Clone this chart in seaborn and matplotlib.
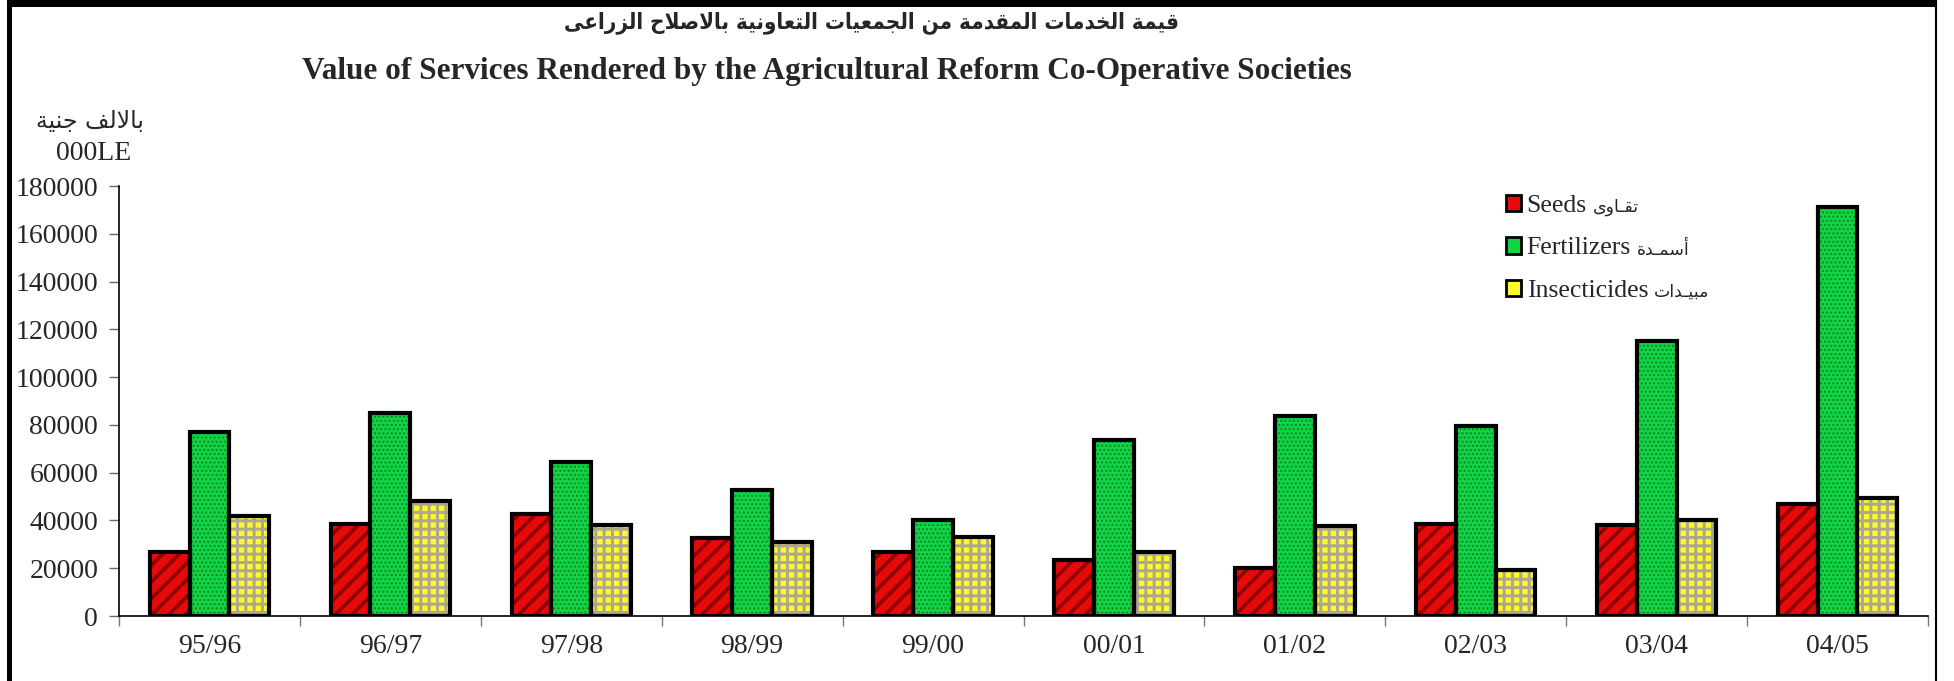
import numpy as np
import pandas as pd
import matplotlib
matplotlib.use("Agg")
import matplotlib.pyplot as plt
from matplotlib.patches import Rectangle, Patch
from matplotlib.lines import Line2D
from matplotlib.transforms import IdentityTransform
import seaborn as sns

# ---------------- data ----------------
years = ["95/96", "96/97", "97/98", "98/99", "99/00", "00/01", "01/02", "02/03", "03/04", "04/05"]
seeds = [27000, 38700, 42800, 32800, 26900, 23600, 20200, 38700, 38100, 47000]
fertilizers = [77000, 84900, 64300, 52700, 40200, 73600, 83700, 79700, 115000, 171000]
insecticides = [41900, 48300, 37900, 30800, 32900, 26800, 37800, 19100, 40100, 49400]
series_en = ["Seeds", "Fertilizers", "Insecticides"]
series_ar = ["تقـاوى", "أسمـدة", "مبيـدات"]
yticks = [0, 20000, 40000, 60000, 80000, 100000, 120000, 140000, 160000, 180000]
title_ar = "قيمة الخدمات المقدمة من الجمعيات التعاونية بالاصلاح الزراعى"
title_en = "Value of Services Rendered by the Agricultural Reform Co-Operative Societies"
unit_ar = "بالالف جنية"
unit_en = "000LE"

# ------------- minimal Arabic shaping (presentation forms, visual order) -------------
AR_FORMS = {
    '\u0627': (0xFE8D, 0xFE8E, None, None),
    '\u0623': (0xFE83, 0xFE84, None, None),
    '\u0628': (0xFE8F, 0xFE90, 0xFE91, 0xFE92),
    '\u0629': (0xFE93, 0xFE94, None, None),
    '\u062A': (0xFE95, 0xFE96, 0xFE97, 0xFE98),
    '\u062C': (0xFE9D, 0xFE9E, 0xFE9F, 0xFEA0),
    '\u062D': (0xFEA1, 0xFEA2, 0xFEA3, 0xFEA4),
    '\u062E': (0xFEA5, 0xFEA6, 0xFEA7, 0xFEA8),
    '\u062F': (0xFEA9, 0xFEAA, None, None),
    '\u0631': (0xFEAD, 0xFEAE, None, None),
    '\u0632': (0xFEAF, 0xFEB0, None, None),
    '\u0633': (0xFEB1, 0xFEB2, 0xFEB3, 0xFEB4),
    '\u0635': (0xFEB9, 0xFEBA, 0xFEBB, 0xFEBC),
    '\u0639': (0xFEC9, 0xFECA, 0xFECB, 0xFECC),
    '\u0641': (0xFED1, 0xFED2, 0xFED3, 0xFED4),
    '\u0642': (0xFED5, 0xFED6, 0xFED7, 0xFED8),
    '\u0644': (0xFEDD, 0xFEDE, 0xFEDF, 0xFEE0),
    '\u0645': (0xFEE1, 0xFEE2, 0xFEE3, 0xFEE4),
    '\u0646': (0xFEE5, 0xFEE6, 0xFEE7, 0xFEE8),
    '\u0648': (0xFEED, 0xFEEE, None, None),
    '\u0649': (0xFEEF, 0xFEF0, None, None),
    '\u064A': (0xFEF1, 0xFEF2, 0xFEF3, 0xFEF4),
    'LA': (0xFEFB, 0xFEFC, None, None),
    'LAH': (0xFEF7, 0xFEF8, None, None),
}
TATWEEL = '\u0640'


def shape_ar(text):
    toks = []
    i = 0
    while i < len(text):
        c = text[i]
        if c == '\u0644' and i + 1 < len(text) and text[i + 1] in ('\u0627', '\u0623'):
            toks.append('LA' if text[i + 1] == '\u0627' else 'LAH')
            i += 2
        else:
            toks.append(c)
            i += 1

    def joins_next(t):
        return t == TATWEEL or (t in AR_FORMS and AR_FORMS[t][2] is not None)

    def joinable(t):
        return t == TATWEEL or t in AR_FORMS

    out = []
    for k, t in enumerate(toks):
        if t not in AR_FORMS:
            out.append(t)
            continue
        prev = toks[k - 1] if k > 0 else None
        nxt = toks[k + 1] if k + 1 < len(toks) else None
        iso, fin, ini, med = AR_FORMS[t]
        jp = prev is not None and joins_next(prev)
        jn = nxt is not None and joinable(nxt) and ini is not None
        if jp and jn:
            g = med
        elif jp:
            g = fin
        elif jn:
            g = ini
        else:
            g = iso
        out.append(chr(g))
    return ''.join(reversed(out))


# ---------------- style ----------------
sns.set_style("ticks")
FAM = ['Liberation Serif', 'DejaVu Sans']
plt.rcParams['font.family'] = FAM
plt.rcParams['hatch.linewidth'] = 2.4

face_colors = ["#E80A0A", "#12D444", "#FCF82C"]
hatch_colors = ["#8E0000", "#0A8A2C", "#ADA78E"]
hatches = ["//", "....", "++"]
hatch_lw = [2.6, 1.0, 2.1]

df = pd.DataFrame({
    "year": years * 3,
    "value": seeds + fertilizers + insecticides,
    "type": [series_en[0]] * len(years) + [series_en[1]] * len(years) + [series_en[2]] * len(years),
})

W, H = 1954, 681
fig = plt.figure(figsize=(W / 100, H / 100), dpi=100)
fig.patch.set_facecolor("white")
ax = fig.add_axes([119 / W, 1 - 616 / H, (1928 - 119) / W, (616 - 186) / H])

sns.barplot(data=df, x="year", y="value", hue="type", hue_order=series_en,
            palette=face_colors, saturation=1, width=0.66, ax=ax,
            legend=False, edgecolor="black", linewidth=0)

for cont, h, hc, hlw in zip(ax.containers, hatches, hatch_colors, hatch_lw):
    for bar in cont:
        bar.set_hatch(h)
        bar.set_edgecolor(hc)
        bar.set_linewidth(0)
        if hasattr(bar, "set_hatch_linewidth"):
            bar.set_hatch_linewidth(hlw)
        ax.add_patch(Rectangle((bar.get_x(), bar.get_y()), bar.get_width(), bar.get_height(),
                               fill=False, edgecolor="black", linewidth=3, zorder=3))

ax.set_xlim(-0.5, len(years) - 0.5)
ax.set_ylim(0, 180000)
ax.set_yticks(yticks)
ax.set_yticklabels([str(v) for v in yticks], fontsize=20)
ax.set_xticks(range(len(years)))
ax.set_xticklabels(years, fontsize=20)
ax.set_xticks(np.arange(-0.5, len(years), 1.0), minor=True)
ax.set_xlabel("")
ax.set_ylabel("")
ax.tick_params(axis="x", which="major", length=0, pad=13)
ax.tick_params(axis="x", which="minor", length=7, width=1, color="#777777", direction="out")
ax.tick_params(axis="y", length=7, width=1, color="#666666", direction="out", pad=8)
for s in ["top", "right"]:
    ax.spines[s].set_visible(False)
for s in ["left", "bottom"]:
    ax.spines[s].set_linewidth(1.2)
    ax.spines[s].set_color("black")

# legend (English part), Arabic part appended next to each entry
handles = [Patch(facecolor=c, edgecolor="black", linewidth=2) for c in face_colors]
leg = fig.legend(handles, series_en, loc="upper left", bbox_to_anchor=(1506 / W, 1 - 195 / H),
                 frameon=False, fontsize=18.5, handlelength=0.6, handleheight=0.6,
                 handletextpad=0.2, labelspacing=0.78, borderpad=0, borderaxespad=0)
fig.canvas.draw()
for t, ar in zip(leg.get_texts(), series_ar):
    bb = t.get_window_extent()
    fig.text(bb.x1 + 6, (bb.y0 + bb.y1) / 2 - 1, shape_ar(ar), transform=IdentityTransform(),
             ha="left", va="center", fontsize=12.5, family=['DejaVu Sans'])

# titles and unit labels
fig.text(872 / W, 1 - 23 / H, shape_ar(title_ar), ha="center", va="center",
         fontsize=16, fontweight="bold", fontstretch="condensed", family=['DejaVu Sans'])
fig.text(827 / W, 1 - 71 / H, title_en, ha="center", va="center",
         fontsize=22.5, fontweight="bold", family=FAM)
fig.text(90 / W, 1 - 121 / H, shape_ar(unit_ar), ha="center", va="center",
         fontsize=17, family=['DejaVu Sans'])
fig.text(94 / W, 1 - 154 / H, unit_en, ha="center", va="center", fontsize=20, family=FAM)

# outer frame
fig.add_artist(Rectangle((7 / W, 1 - 7 / H), (1936 - 7) / W, 7 / H, transform=fig.transFigure,
                         facecolor="black", edgecolor="none"))
fig.add_artist(Rectangle((7 / W, 0), 5 / W, 1, transform=fig.transFigure,
                         facecolor="black", edgecolor="none"))
fig.add_artist(Line2D([1936 / W, 1936 / W], [0, 1], transform=fig.transFigure,
                      color="black", linewidth=1.5))

fig.savefig("out.png", dpi=100)
